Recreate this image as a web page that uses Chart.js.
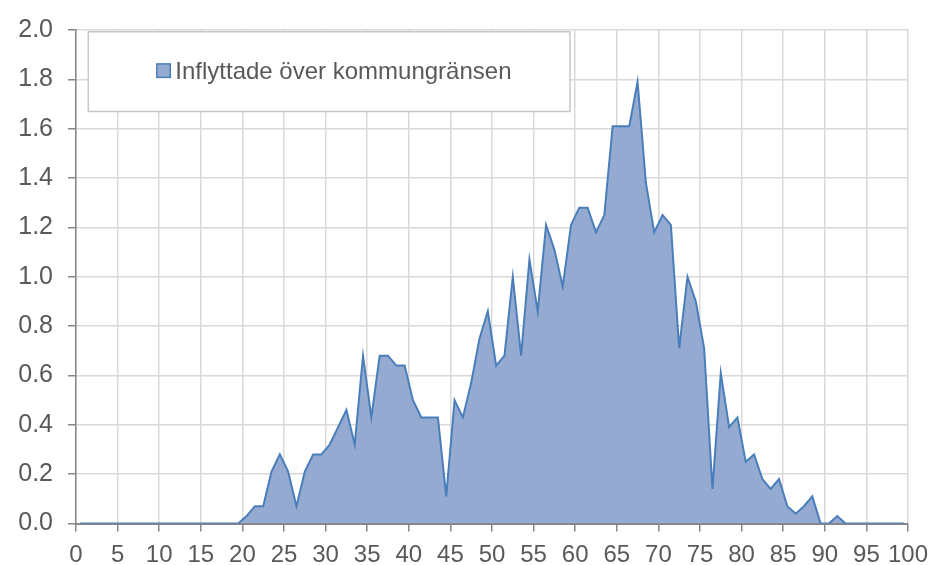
<!DOCTYPE html>
<html lang="sv">
<head>
<meta charset="utf-8">
<script src="https://cdn.jsdelivr.net/npm/chart.js@4/dist/chart.umd.min.js"></script>
<style>
  html, body { margin: 0; padding: 0; background: #ffffff; }
  #wrap { width: 937px; height: 565px; position: relative; }
</style>
</head>
<body>
<div id="wrap"><canvas id="chart" width="937" height="565"></canvas></div>
<script>
// Age in whole years (0–99); each value covers a one-year band
const ages = Array.from({ length: 100 }, (_, i) => i);

// Share (%) of people moving in across the municipal border, per age
const inflyttade = [
  0, 0, 0, 0, 0, 0, 0, 0, 0, 0,                         // 0–9
  0, 0, 0, 0, 0, 0, 0, 0, 0, 0,                         // 10–19
  0.03, 0.07, 0.07, 0.21, 0.28, 0.21, 0.07, 0.21, 0.28, 0.28, // 20–29
  0.32, 0.39, 0.46, 0.32, 0.68, 0.43, 0.68, 0.68, 0.64, 0.64, // 30–39
  0.50, 0.43, 0.43, 0.43, 0.11, 0.50, 0.43, 0.57, 0.75, 0.86, // 40–49
  0.64, 0.68, 1.00, 0.68, 1.07, 0.86, 1.21, 1.11, 0.96, 1.21, // 50–59
  1.28, 1.28, 1.18, 1.25, 1.61, 1.61, 1.61, 1.79, 1.38, 1.18, // 60–69
  1.25, 1.21, 0.71, 1.00, 0.90, 0.71, 0.14, 0.61, 0.39, 0.43, // 70–79
  0.25, 0.28, 0.18, 0.14, 0.18, 0.07, 0.04, 0.07, 0.11, 0,    // 80–89
  0, 0.03, 0, 0, 0, 0, 0, 0, 0, 0                              // 90–99
];

const seriesLabel = 'Inflyttade över kommungränsen';

// Axis ranges and tick steps
const xRange = [0, 100];
const xStep = 5;
const yRange = [0, 2.0];
const yStep = 0.2;

const FONT = '"Liberation Sans", Arial, sans-serif';
const TEXT = '#595959';
const GRID = '#d9d9d9';
const AXIS = '#868686';
const LINE = '#4a7ebb';
const FILL = '#94aad1';

// Each one-year band is plotted at its midpoint
const points = ages.map((a, i) => ({ x: a + 0.5, y: inflyttade[i] }));

// Framed legend box inside the plot area
const boxedLegend = {
  id: 'boxedLegend',
  afterDraw(chart, args, opts) {
    const { ctx, chartArea } = chart;
    const ds = chart.data.datasets[0];
    const x = chartArea.left + opts.offsetX;
    const y = chartArea.top + opts.offsetY;
    ctx.save();
    ctx.fillStyle = '#ffffff';
    ctx.fillRect(x, y, opts.width, opts.height);
    ctx.strokeStyle = '#c6c6c6';
    ctx.lineWidth = 1.5;
    ctx.strokeRect(x, y, opts.width, opts.height);

    const cy = y + opts.height / 2;
    ctx.font = opts.fontSize + 'px ' + FONT;
    const tw = ctx.measureText(ds.label).width;
    const sq = 13.5, gap = 5;
    const total = sq + gap + tw;
    const sx = x + (opts.width - total) / 2 + opts.shiftX;
    ctx.fillStyle = ds.backgroundColor;
    ctx.fillRect(sx, cy - sq / 2 - 1, sq, sq);
    ctx.strokeStyle = ds.borderColor;
    ctx.lineWidth = 1.5;
    ctx.strokeRect(sx, cy - sq / 2 - 1, sq, sq);
    ctx.fillStyle = TEXT;
    ctx.textBaseline = 'middle';
    ctx.textAlign = 'left';
    ctx.fillText(ds.label, sx + sq + gap, cy + 1);
    ctx.restore();
  }
};

new Chart(document.getElementById('chart'), {
  type: 'line',
  data: {
    datasets: [{
      label: seriesLabel,
      data: points,
      borderColor: LINE,
      backgroundColor: FILL,
      borderWidth: 2,
      fill: 'origin',
      tension: 0,
      pointRadius: 0,
      pointHoverRadius: 0
    }]
  },
  options: {
    responsive: false,
    animation: false,
    events: [],
    layout: { padding: { top: 26.5, right: 28, bottom: 0, left: 0 } },
    plugins: {
      legend: { display: false },
      tooltip: { enabled: false },
      boxedLegend: { offsetX: 12.3, offsetY: 1.8, width: 481.7, height: 79.7, fontSize: 24, shiftX: 5 }
    },
    scales: {
      x: {
        type: 'linear',
        min: xRange[0],
        max: xRange[1],
        afterFit(scale) { scale.height = 41.5; },
        ticks: {
          stepSize: xStep,
          autoSkip: false,
          maxRotation: 0,
          padding: 9,
          color: TEXT,
          font: { family: FONT, size: 24 }
        },
        grid: {
          color: GRID,
          lineWidth: 1.5,
          tickColor: AXIS,
          tickLength: 8,
          tickWidth: 1.5
        },
        border: { color: AXIS, width: 2 }
      },
      y: {
        min: yRange[0],
        max: yRange[1],
        afterFit(scale) { scale.width = 76; },
        ticks: {
          stepSize: yStep,
          padding: 15,
          color: TEXT,
          font: { family: FONT, size: 25 },
          callback: v => Number(v).toFixed(1)
        },
        grid: {
          color: GRID,
          lineWidth: 1.5,
          tickColor: AXIS,
          tickLength: 8,
          tickWidth: 1.5
        },
        border: { color: AXIS, width: 1.5 }
      }
    }
  },
  plugins: [boxedLegend]
});
</script>
</body>
</html>
